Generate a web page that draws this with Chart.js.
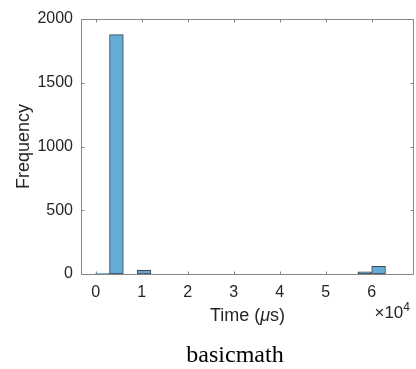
<!DOCTYPE html>
<html>
<head>
<meta charset="utf-8">
<script src="https://cdn.jsdelivr.net/npm/chart.js@4"></script>
<style>
  html, body { margin: 0; padding: 0; background: #fff; }
  #wrap { width: 416px; height: 369px; position: relative; }
</style>
</head>
<body>
<div id="wrap"><canvas id="chart"></canvas></div>
<script>
// run-time histogram, 3000 us bins starting at 0
const binWidth = 3000;
const binCounts = [5, 1878, 0, 29, 0, 0, 0, 0, 0, 0, 0, 0, 0, 0, 0, 0, 0, 0, 0, 18, 60];
const xTicks = [0, 10000, 20000, 30000, 40000, 50000, 60000];
const yTicks = [0, 500, 1000, 1500, 2000];
const xLimits = [-3200, 69200];
const yLimits = [0, 2000];
const xLabel = ["Time (", "\u03bc", "s)"];
const yLabel = "Frequency";
const xExponent = ["\u00d710", "4"];
const caption = "basicmath";

const SANS = "'Liberation Sans', Arial, sans-serif";
const SERIF = "'Liberation Serif', 'Times New Roman', serif";
const TEXT = "#262626";
const AXIS = "#868686";

const points = binCounts.map((c, i) => ({ x: i * binWidth + binWidth / 2, y: c }));

// ======================
// FRAME, INWARD TICKS, LABELS
// ======================
const framePlugin = {
  id: "frame",
  afterDraw(chart) {
    const { ctx, chartArea: a, scales } = chart;
    const l = Math.round(a.left) + 0.5, r = Math.round(a.right) - 0.5;
    const t = Math.round(a.top) + 0.5, b = Math.round(a.bottom) + 0.5;
    const tl = 3;
    ctx.save();
    ctx.strokeStyle = AXIS;
    ctx.lineWidth = 1;
    ctx.beginPath();
    ctx.moveTo(l, t); ctx.lineTo(r, t); ctx.lineTo(r, b); ctx.lineTo(l, b); ctx.closePath();
    xTicks.forEach(v => {
      const px = Math.round(scales.x.getPixelForValue(v)) + 0.5;
      ctx.moveTo(px, b); ctx.lineTo(px, b - tl);
      ctx.moveTo(px, t); ctx.lineTo(px, t + tl);
    });
    yTicks.forEach(v => {
      const py = Math.round(scales.y.getPixelForValue(v)) + 0.5;
      ctx.moveTo(l, py); ctx.lineTo(l + tl, py);
      ctx.moveTo(r, py); ctx.lineTo(r - tl, py);
    });
    ctx.stroke();

    ctx.fillStyle = TEXT;
    ctx.textBaseline = "alphabetic";

    // x axis title with italic mu
    const fonts = ["18px " + SANS, "italic 18px " + SANS, "18px " + SANS];
    const widths = xLabel.map((s, i) => { ctx.font = fonts[i]; return ctx.measureText(s).width; });
    let x = (a.left + a.right) / 2 - widths.reduce((p, w) => p + w, 0) / 2;
    xLabel.forEach((s, i) => {
      ctx.font = fonts[i];
      ctx.textAlign = "left";
      ctx.fillText(s, x, 321);
      x += widths[i];
    });

    // exponent under the right end of the x axis
    ctx.font = "12px " + SANS;
    const ew = ctx.measureText(xExponent[1]).width;
    ctx.textAlign = "left";
    ctx.fillText(xExponent[1], a.right - 4 - ew, 311);
    ctx.font = "17px " + SANS;
    ctx.textAlign = "right";
    ctx.fillText(xExponent[0], a.right - 4 - ew, 318);

    // y axis title
    ctx.save();
    ctx.translate(29, (a.top + a.bottom) / 2);
    ctx.rotate(-Math.PI / 2);
    ctx.textAlign = "center";
    ctx.font = "18px " + SANS;
    ctx.fillText(yLabel, 0, 0);
    ctx.restore();

    // caption
    ctx.font = "24px " + SERIF;
    ctx.fillStyle = "#000";
    ctx.textAlign = "center";
    ctx.fillText(caption, 235, 362);
    ctx.restore();
  }
};

new Chart(document.getElementById("chart"), {
  type: "bar",
  data: {
    datasets: [{
      data: points,
      backgroundColor: "#66aad7",
      borderColor: "#3b4650",
      borderWidth: 1,
      borderSkipped: false,
      categoryPercentage: 1,
      barPercentage: 1
    }]
  },
  options: {
    responsive: true,
    maintainAspectRatio: false,
    animation: false,
    layout: { padding: { top: 19, right: 2, left: 0, bottom: 0 } },
    plugins: { legend: { display: false }, tooltip: { enabled: false } },
    scales: {
      x: {
        type: "linear",
        min: xLimits[0],
        max: xLimits[1],
        offset: false,
        grid: { display: false, drawTicks: false },
        border: { display: false },
        afterBuildTicks: s => { s.ticks = xTicks.map(v => ({ value: v })); },
        afterFit: s => { s.height = 95; },
        ticks: {
          color: TEXT,
          padding: 9,
          maxRotation: 0,
          font: { family: SANS, size: 16 },
          callback: v => String(v / 10000)
        }
      },
      y: {
        min: yLimits[0],
        max: yLimits[1],
        grid: { display: false, drawTicks: false },
        border: { display: false },
        afterBuildTicks: s => { s.ticks = yTicks.map(v => ({ value: v })); },
        afterFit: s => { s.width = 81; },
        ticks: {
          color: TEXT,
          padding: 8,
          font: { family: SANS, size: 16 },
          callback: v => String(v)
        }
      }
    }
  },
  plugins: [framePlugin]
});
</script>
</body>
</html>
